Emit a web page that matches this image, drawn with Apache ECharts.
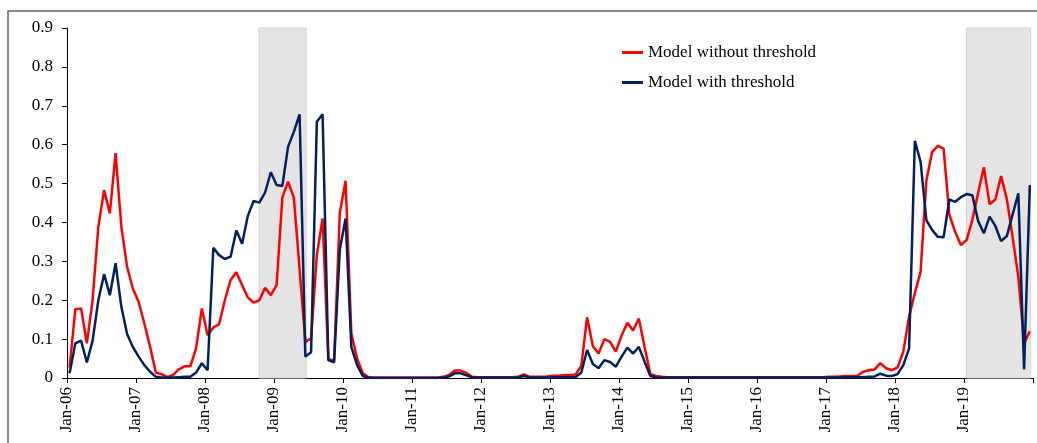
<!DOCTYPE html>
<html>
<head>
<meta charset="utf-8">
<script src="https://cdn.jsdelivr.net/npm/echarts@6/dist/echarts.min.js"></script>
<style>
html,body{margin:0;padding:0;background:#fff;}
#chart{width:1037px;height:443px;}
</style>
</head>
<body>
<div id="chart"></div>
<script>
// Monthly observations Jan-06 .. Dec-19 (168 months)
const tickLabels = ['Jan-06','Jan-07','Jan-08','Jan-09','Jan-10','Jan-11','Jan-12','Jan-13','Jan-14','Jan-15','Jan-16','Jan-17','Jan-18','Jan-19',''];

const withoutThreshold = [
  0.027,0.177,0.179,0.089,0.20,0.389,0.483,0.423,0.578,0.389,0.286,0.23,
  0.196,0.14,0.08,0.014,0.01,0.002,0.008,0.022,0.03,0.03,0.076,0.179,
  0.11,0.13,0.138,0.2,0.252,0.272,0.239,0.207,0.194,0.2,0.232,0.213,
  0.239,0.464,0.505,0.464,0.28,0.093,0.102,0.316,0.41,0.048,0.045,0.425,
  0.507,0.115,0.05,0.012,0.002,0.001,0.001,0.001,0.001,0.001,0.001,0.001,
  0.001,0.001,0.001,0.001,0.001,0.003,0.008,0.019,0.019,0.013,0.003,0.002,
  0.002,0.002,0.002,0.002,0.002,0.002,0.003,0.009,0.003,0.003,0.003,0.004,
  0.006,0.006,0.007,0.008,0.009,0.031,0.156,0.082,0.063,0.1,0.093,0.068,
  0.109,0.142,0.122,0.153,0.08,0.01,0.005,0.003,0.002,0.002,0.002,0.002,
  0.002,0.002,0.002,0.002,0.002,0.002,0.002,0.002,0.002,0.002,0.002,0.002,
  0.002,0.002,0.002,0.002,0.002,0.002,0.002,0.002,0.002,0.002,0.002,0.002,
  0.003,0.003,0.004,0.005,0.005,0.006,0.016,0.02,0.022,0.038,0.025,0.02,
  0.027,0.068,0.158,0.218,0.273,0.507,0.581,0.597,0.59,0.421,0.376,0.342,
  0.355,0.406,0.475,0.542,0.447,0.459,0.519,0.46,0.363,0.26,0.089,0.12
];

const withThreshold = [
  0.012,0.089,0.096,0.04,0.096,0.2,0.267,0.213,0.295,0.183,0.113,0.08,
  0.055,0.033,0.016,0.003,0.001,0.001,0.001,0.002,0.003,0.003,0.014,0.038,
  0.02,0.335,0.316,0.306,0.312,0.379,0.345,0.417,0.455,0.451,0.477,0.529,
  0.496,0.494,0.595,0.633,0.678,0.055,0.066,0.659,0.678,0.046,0.04,0.331,
  0.41,0.08,0.033,0.005,0.001,0,0,0,0,0,0,0,
  0,0,0,0,0,0.001,0.004,0.012,0.012,0.007,0.002,0.001,
  0.001,0.001,0.001,0.001,0.001,0.001,0.002,0.005,0.002,0.001,0.001,0.001,
  0.002,0.002,0.002,0.002,0.002,0.014,0.072,0.036,0.025,0.046,0.041,0.029,
  0.055,0.078,0.063,0.08,0.042,0.005,0.002,0.001,0.001,0.001,0.001,0.001,
  0.001,0.001,0.001,0.001,0.001,0.001,0.001,0.001,0.001,0.001,0.001,0.001,
  0.001,0.001,0.001,0.001,0.001,0.001,0.001,0.001,0.001,0.001,0.001,0.001,
  0.001,0.001,0.001,0.002,0.002,0.002,0.002,0.003,0.004,0.011,0.006,0.005,
  0.01,0.033,0.076,0.61,0.556,0.406,0.381,0.363,0.362,0.459,0.453,0.465,
  0.473,0.47,0.404,0.372,0.415,0.391,0.352,0.365,0.42,0.475,0.022,0.496
];

// shaded periods (month index, first and last month)
const shadeStart = [33, 156];   // Oct-08, Jan-19
const shadeEnd   = [41, 167];   // Jun-09, Dec-19

const seriesNames = ['Model without threshold', 'Model with threshold'];

// observation sits partway through its month on the date axis
const inMonth = 0.45;
const toPts = arr => arr.map((v, i) => [i + inMonth, v]);

const FONT = 'Liberation Serif';
const FS = 17;
const chart = echarts.init(document.getElementById('chart'), null, {renderer: 'canvas'});

chart.setOption({
  animation: false,
  backgroundColor: '#ffffff',
  textStyle: {fontFamily: FONT},
  graphic: [{
    type: 'rect', silent: true, z: -1,
    shape: {x: 8, y: 11, width: 1200, height: 600},
    style: {fill: 'none', stroke: '#666666', lineWidth: 1.5}
  }],
  grid: {left: 67, right: 4, top: 28, bottom: 65, containLabel: false},
  legend: {
    orient: 'vertical', left: 622, top: 44, itemGap: 13, padding: 0,
    itemWidth: 21, itemHeight: 3, icon: 'rect',
    textStyle: {fontFamily: FONT, fontSize: FS, color: '#000', lineHeight: 17},
    data: seriesNames
  },
  xAxis: {
    type: 'value', min: 0, max: 168, interval: 12,
    axisLine: {lineStyle: {color: '#000', width: 1}},
    axisTick: {show: true, inside: false, length: 5, lineStyle: {color: '#000'}},
    splitLine: {show: false},
    axisLabel: {
      rotate: 90, margin: 9, fontFamily: FONT, fontSize: FS, color: '#000',
      formatter: v => tickLabels[Math.round(v / 12)] || ''
    }
  },
  yAxis: {
    type: 'value', min: 0, max: 0.9, interval: 0.1,
    axisLine: {show: true, lineStyle: {color: '#000', width: 1}},
    axisTick: {show: true, inside: false, length: 5, lineStyle: {color: '#000'}},
    splitLine: {show: false},
    axisLabel: {
      margin: 14, fontFamily: FONT, fontSize: FS, color: '#000',
      formatter: v => (Math.round(v * 10) / 10).toString()
    }
  },
  series: [
    {
      name: seriesNames[0], type: 'line', data: toPts(withoutThreshold),
      symbol: 'none', z: 3,
      lineStyle: {color: '#ff0000', width: 2.5},
      itemStyle: {color: '#ff0000'},
      markArea: {
        silent: true,
        itemStyle: {color: '#e4e4e4', borderColor: '#d4d4d4', borderWidth: 1},
        data: shadeStart.map((s, k) => [
          {xAxis: s + inMonth - 0.05, yAxis: 0},
          {xAxis: shadeEnd[k] + inMonth + 0.15, yAxis: 0.9}
        ])
      }
    },
    {
      name: seriesNames[1], type: 'line', data: toPts(withThreshold),
      symbol: 'none', z: 4,
      lineStyle: {color: '#002060', width: 2.5},
      itemStyle: {color: '#002060'}
    }
  ]
});
</script>
</body>
</html>
